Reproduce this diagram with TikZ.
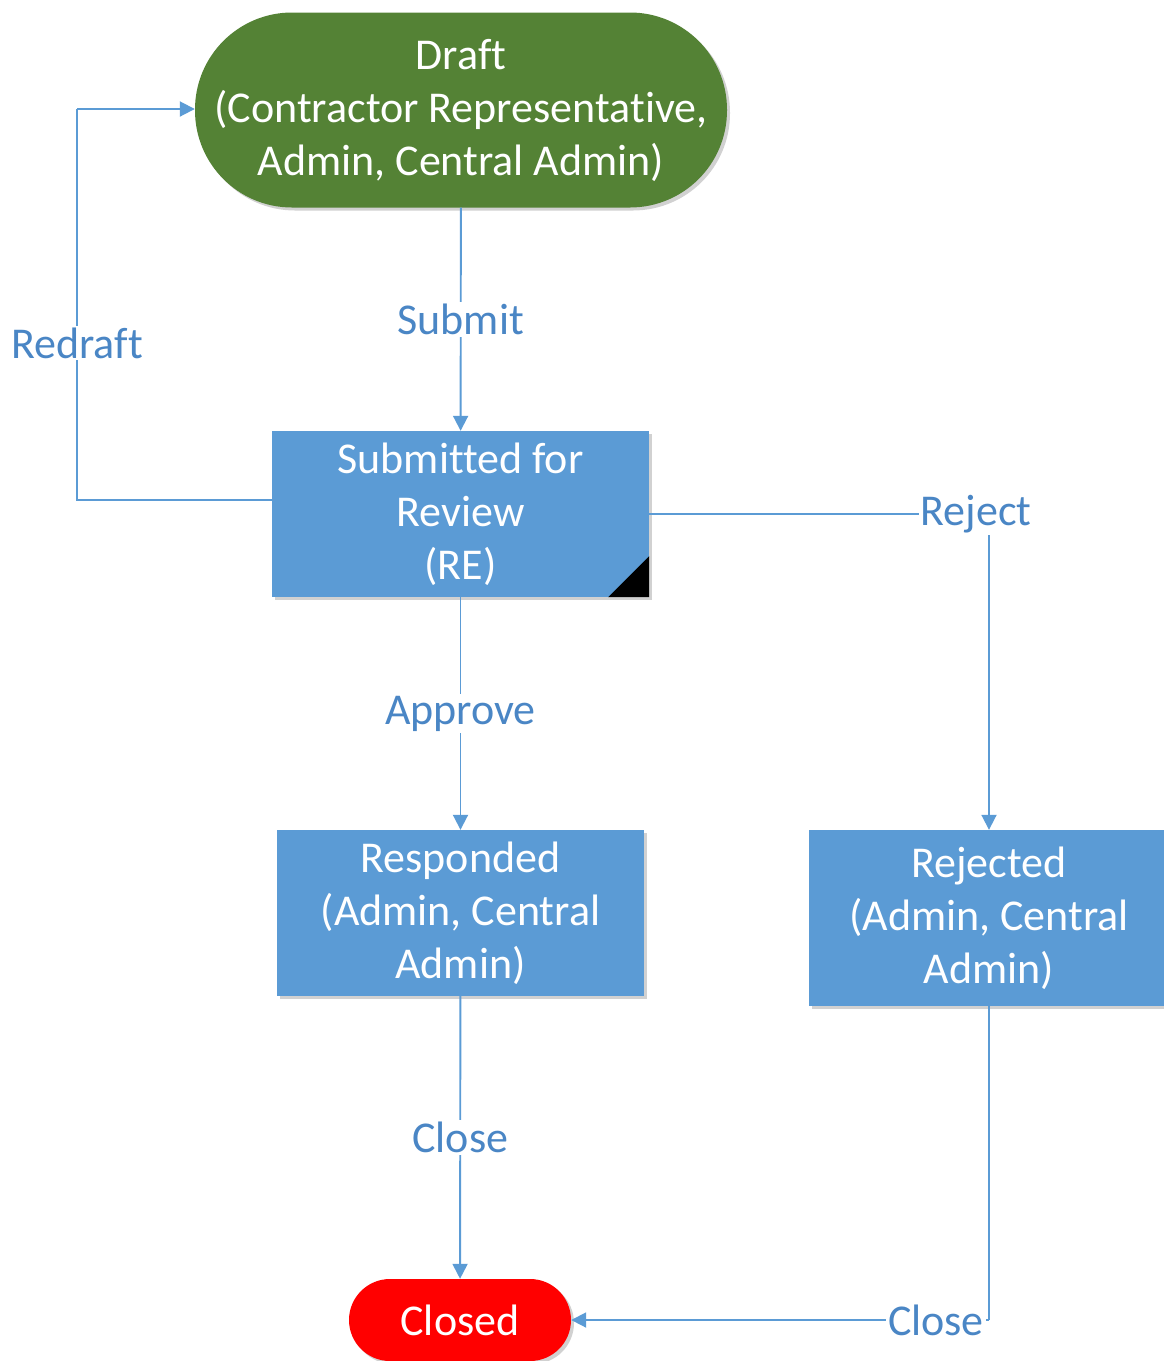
\documentclass[tikz,border=0pt]{standalone}
\usepackage{fontspec}
\setmainfont[Ligatures=NoCommon]{Carlito}
\usetikzlibrary{arrows.meta,shadows,positioning}
\definecolor{boxblue}{HTML}{5B9BD5}
\definecolor{linkblue}{HTML}{5B9BD5}
\definecolor{labelblue}{HTML}{4A86C5}
\definecolor{draftgreen}{HTML}{548235}
\definecolor{closedred}{HTML}{FF0000}
\begin{document}
\begin{tikzpicture}[x=1pt,y=-1pt,
  every node/.style={font=\fontsize{44}{53}\selectfont},
  state/.style={draw=none, fill=boxblue, text=white, align=center, inner sep=0pt,
    drop shadow={shadow xshift=3pt, shadow yshift=-3pt, opacity=0.18, fill=black}},
  terminal/.style={state, rounded corners=#1},
  link/.style={draw=linkblue, line width=1.9pt, -{Triangle[length=15pt,width=15pt]}},
  plain/.style={draw=linkblue, line width=1.9pt},
  tag/.style={fill=white, text=labelblue, inner sep=2pt}]
\useasboundingbox (0,0) rectangle (1163,1361);

% states
\node[terminal=97pt, fill=draftgreen, minimum width=532pt, minimum height=195pt]
  (draft) at (461,110) {Draft\\(Contractor Representative,\\Admin, Central Admin)};
\node[state, minimum width=377pt, minimum height=166pt]
  (review) at (460.5,514) {Submitted for\\Review\\(RE)};
\fill[black] ([xshift=-41pt]review.south east) -- (review.south east) -- ([yshift=41pt]review.south east) -- cycle;
\node[state, minimum width=367pt, minimum height=166pt]
  (responded) at (460.5,913) {Responded\\(Admin, Central\\Admin)};
\node[state, minimum width=360pt, minimum height=176pt]
  (rejected) at (989,918) {Rejected\\(Admin, Central\\Admin)};
\node[terminal=41pt, fill=closedred, minimum width=222pt, minimum height=82pt]
  (closed) at (460,1320) {Closed};

% transitions
\draw[link] (draft) -- node[tag] (submit) {Submit} (review);
\draw[link] (review) -- node[tag] (approve) {Approve} (responded);
\draw[link] (responded) -- node[tag] (close1) {Close} (closed);

\coordinate (rdA) at (77,500);
\coordinate (rdB) at (77,109);
\draw[plain] (review.west |- rdA) -- (rdA) -- (rdB);
\draw[link] (rdB) -- (draft.west |- rdB);
\node[tag] (redraft) at (77,343) {Redraft};

\coordinate (rjA) at (989,514);
\draw[plain] (review.east) -- (rjA);
\draw[link] (rjA) -- (rejected.north);
\node[tag] (reject) at (976,514) {Reject};

\coordinate (clA) at (989,1320);
\draw[plain] (rejected.south) -- (clA);
\draw[link] (clA) -- (closed.east);
\node[tag] (close2) at (936,1320) {Close};
\end{tikzpicture}
\end{document}
